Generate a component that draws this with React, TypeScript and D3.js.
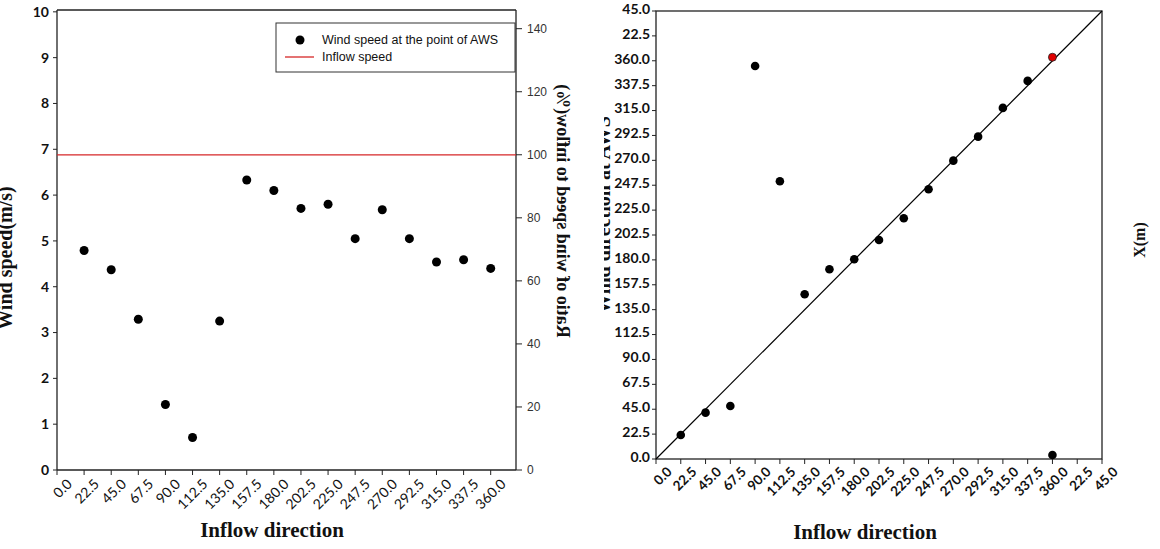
import React from "react";
import * as d3 from "d3";

// inflow directions (deg) used in both panels
const directions = [22.5, 45, 67.5, 90, 112.5, 135, 157.5, 180, 202.5, 225, 247.5, 270, 292.5, 315, 337.5, 360];
// wind speed at the point of AWS (m/s)
const windSpeed = [4.79, 4.37, 3.29, 1.43, 0.71, 3.25, 6.33, 6.1, 5.71, 5.8, 5.05, 5.68, 5.05, 4.54, 4.59, 4.4];
const inflowSpeed = 6.88;
// wind direction at AWS (deg) for each inflow direction
const awsDirection = [21.7, 41.9, 47.9, 355.3, 251.1, 148.9, 171.5, 180.6, 198, 217.6, 243.9, 269.7, 291.4, 317.4, 341.8, 3.6];
const redPoint = { dir: 360, value: 363.2 };

const speedTicks = [0, 1, 2, 3, 4, 5, 6, 7, 8, 9, 10];
const ratioTicks = [0, 20, 40, 60, 80, 100, 120, 140];
const leftDirTicks = d3.range(0, 360.01, 22.5);
const rightDirTicks = d3.range(0, 405.01, 22.5);

const serif = "'Liberation Serif', 'Times New Roman', serif";
const sans = "Lato, 'Liberation Sans', sans-serif";
const arial = "'Liberation Sans', Arial, sans-serif";

function fmtDir(v: number) {
  return (v > 360 ? v - 360 : v).toFixed(1);
}

function LeftPanel() {
  const x = d3.scaleLinear().domain([0, 381]).range([57, 516]);
  const y = d3.scaleLinear().domain([0, 10.04]).range([470, 10]);
  const yr = d3.scaleLinear().domain([0, (10.04 * 100) / inflowSpeed]).range([470, 10]);
  const [x0, x1] = x.range();
  const [b, t] = y.range();

  return (
    <g>
      <rect x={0} y={0} width={604} height={549} fill="white" />
      {/* frame */}
      <line x1={x0} x2={x1} y1={t} y2={t} stroke="#222" strokeWidth={1.3} />
      <line x1={x0} x2={x1} y1={b} y2={b} stroke="#222" strokeWidth={1.3} />
      <line x1={x0} x2={x0} y1={t} y2={b} stroke="#222" strokeWidth={1.3} />
      <line x1={x1} x2={x1} y1={t} y2={b} stroke="#222" strokeWidth={1.3} />

      {/* left axis */}
      {speedTicks.map((v) => (
        <g key={"s" + v}>
          <line x1={x0 - 4} x2={x0} y1={y(v)} y2={y(v)} stroke="#222" />
          <text x={x0 - 8} y={y(v)} dy="0.35em" textAnchor="end" fontFamily={sans} fontWeight={700} fontSize={14} fill="#111">
            {v}
          </text>
        </g>
      ))}

      {/* right axis */}
      {ratioTicks.map((v) => (
        <g key={"r" + v}>
          <line x1={x1} x2={x1 + 6} y1={yr(v)} y2={yr(v)} stroke="#222" />
          <text x={x1 + 11} y={yr(v)} dy="0.35em" fontFamily={arial} fontSize={12} fill="#333">
            {v}
          </text>
        </g>
      ))}

      {/* bottom axis */}
      {leftDirTicks.map((v) => (
        <g key={"d" + v}>
          <line x1={x(v)} x2={x(v)} y1={b} y2={b + 5} stroke="#222" />
          <text
            transform={`translate(${x(v) + 9},${b + 8}) rotate(-45)`}
            textAnchor="end"
            dy="0.7em"
            fontFamily={sans}
            fontSize={14}
            fill="#111"
          >
            {v.toFixed(1)}
          </text>
        </g>
      ))}

      {/* inflow speed line */}
      <line x1={x0} x2={x1} y1={y(inflowSpeed)} y2={y(inflowSpeed)} stroke="#d62728" strokeWidth={1.3} />

      {directions.map((d, i) => (
        <circle key={"p" + d} cx={x(d)} cy={y(windSpeed[i])} r={4.5} fill="black" />
      ))}

      {/* legend */}
      <rect x={276} y={23} width={239} height={49} fill="white" stroke="#333" strokeWidth={1} />
      <circle cx={300} cy={40} r={4.5} fill="black" />
      <text x={322} y={40} dy="0.35em" fontFamily={arial} fontSize={12.5} fill="#111">
        Wind speed at the point of AWS
      </text>
      <line x1={285} x2={314} y1={57} y2={57} stroke="#d62728" strokeWidth={1.3} />
      <text x={322} y={57} dy="0.35em" fontFamily={arial} fontSize={12.5} fill="#111">
        Inflow speed
      </text>

      {/* titles */}
      <text x={272} y={537} textAnchor="middle" fontFamily={serif} fontWeight={700} fontSize={21} fill="#111">
        Inflow direction
      </text>
      <text transform="translate(12,258) rotate(-90)" textAnchor="middle" fontFamily={serif} fontWeight={700} fontSize={20} fill="#111">
        Wind speed(m/s)
      </text>
      {/* mirrored title, as in the source figure */}
      <text transform="translate(557,211) rotate(90) scale(-1,1)" textAnchor="middle" fontFamily={serif} fontWeight={700} fontSize={18} fill="#111">
        Ratio of wind speed to inflow(%)
      </text>
    </g>
  );
}

function RightPanel() {
  const x = d3.scaleLinear().domain([0, 405]).range([656, 1102]);
  const y = d3.scaleLinear().domain([0, 405]).range([459, 11]);
  const [x0, x1] = x.range();
  const [b, t] = y.range();
  const diag = d3.line<number>().x((d) => x(d)).y((d) => y(d));

  return (
    <g>
      {/* partly hidden y title behind the left panel */}
      <text transform="translate(610,215) rotate(-90)" textAnchor="middle" fontFamily={serif} fontWeight={700} fontSize={20} fill="#111">
        Wind direction at AWS
      </text>
      <rect x={x0} y={t} width={x1 - x0} height={b - t} fill="none" stroke="#222" strokeWidth={1.3} />

      {rightDirTicks.map((v) => (
        <g key={"y" + v}>
          <line x1={x0 - 4} x2={x0} y1={y(v)} y2={y(v)} stroke="#222" />
          <text x={x0 - 6} y={y(v) - 2} dy="0.35em" textAnchor="end" fontFamily={sans} fontWeight={700} fontSize={14} fill="#111">
            {fmtDir(v)}
          </text>
        </g>
      ))}
      {rightDirTicks.map((v) => (
        <g key={"x" + v}>
          <line x1={x(v)} x2={x(v)} y1={b} y2={b + 5} stroke="#222" />
          <text
            transform={`translate(${x(v) + 10},${b + 7}) rotate(-45)`}
            textAnchor="end"
            dy="0.7em"
            fontFamily={sans}
            fontWeight={700}
            fontSize={13.5}
            fill="#111"
          >
            {fmtDir(v)}
          </text>
        </g>
      ))}

      <path d={diag([0, 405]) ?? ""} stroke="black" strokeWidth={1.2} fill="none" />

      {directions.map((d, i) => (
        <circle key={"q" + d} cx={x(d)} cy={y(awsDirection[i])} r={4.3} fill="black" />
      ))}
      <circle cx={x(redPoint.dir)} cy={y(redPoint.value)} r={4} fill="#e00000" stroke="#222" strokeWidth={0.8} />

      <text x={865} y={539} textAnchor="middle" fontFamily={serif} fontWeight={700} fontSize={21} fill="#111">
        Inflow direction
      </text>
      <text transform="translate(1145,240) rotate(-90)" textAnchor="middle" fontFamily={serif} fontWeight={700} fontSize={16} fill="#111">
        X(m)
      </text>
    </g>
  );
}

export default function App() {
  return (
    <svg width={1160} height={549} style={{ position: "absolute", left: 0, top: 0, background: "white" }}>
      <RightPanel />
      <LeftPanel />
    </svg>
  );
}
